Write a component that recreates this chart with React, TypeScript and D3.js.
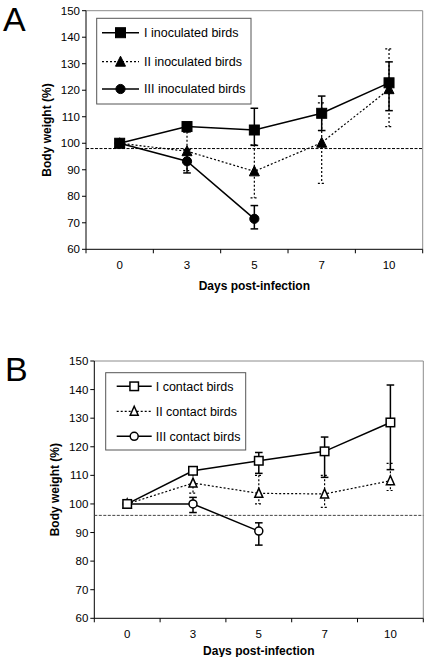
import React from "react";
import * as d3 from "d3";

const days = ["0", "3", "5", "7", "10"];
const yTicks = [60, 70, 80, 90, 100, 110, 120, 130, 140, 150];

// Panel A — inoculated birds
const inocLabels = ["I inoculated birds", "II inoculated birds", "III inoculated birds"];
const inocI = [100, 106.3, 105, 111.3, 122.8];
const inocIPlus = [0, 1.5, 8.2, 6.5, 7.9];
const inocIMinus = [0, 2, 5.8, 6.5, 10.5];
const inocII = [100, 97, 89.4, 100.2, 120.4];
const inocIIPlus = [0, 7.3, 10, 15, 15.2];
const inocIIMinus = [0, 7.3, 10, 15.3, 14.1];
const inocIII = [100, 93.2, 71.5, null, null];
const inocIIIPlus = [0, 4.4, 5, 0, 0];
const inocIIIMinus = [0, 4.4, 3.8, 0, 0];
const inocRef = 98;

// Panel B — contact birds
const contLabels = ["I contact birds", "II contact birds", "III contact birds"];
const contI = [100, 111.6, 115.1, 118.4, 128.5];
const contIPlus = [0, 1, 2.9, 5, 13.1];
const contIMinus = [0, 1, 4.4, 9.1, 16.5];
const contII = [100, 107.3, 103.7, 103.5, 108.1];
const contIIPlus = [0, 3, 6.3, 6.5, 6.1];
const contIIMinus = [0, 3.5, 3.7, 4.7, 3.4];
const contIII = [100, 100, 90.5, null, null];
const contIIIPlus = [0, 2.3, 2.9, 0, 0];
const contIIIMinus = [0, 3, 4.9, 0, 0];
const contRef = 96;

type Series = {
  values: (number | null)[];
  plus: number[];
  minus: number[];
  marker: "square" | "triangle" | "circle";
  filled: boolean;
  dotted: boolean;
  label: string;
};

type PanelProps = {
  letter: string;
  letterY: number;
  left: number;
  right: number;
  top: number;
  bottom: number;
  series: Series[];
  legendSeries: Series[];
  refValue: number;
  refColor: string;
  legend: { x0: number; x1: number; y0: number; y1: number; rows: number[]; lineX0: number; lineX1: number; textX: number };
  yTitleX: number;
  xLabelY: number;
  xTitleY: number;
};

const FONT = "Liberation Sans, Arial, sans-serif";

function Marker({ kind, x, y, filled }: { kind: string; x: number; y: number; filled: boolean }) {
  const fill = filled ? "#000" : "#fff";
  const sw = filled ? 1 : 1.5;
  if (kind === "square") {
    const s = filled ? 10 : 8.5;
    return <rect x={x - s / 2} y={y - s / 2} width={s} height={s} fill={fill} stroke="#000" strokeWidth={sw} />;
  }
  if (kind === "circle") {
    const r = filled ? 4.6 : 4;
    return <circle cx={x} cy={y} r={r} fill={fill} stroke="#000" strokeWidth={sw} />;
  }
  const h = filled ? 9 : 8;
  const w = filled ? 10 : 8;
  const p = `M${x},${y - h / 2 - 1} L${x + w / 2},${y + h / 2} L${x - w / 2},${y + h / 2} Z`;
  return <path d={p} fill={fill} stroke="#000" strokeWidth={sw} />;
}

function Panel(props: PanelProps) {
  const { left, right, top, bottom, series, legend } = props;
  const x = d3.scaleBand<string>().domain(days).range([left, right]).paddingInner(0).paddingOuter(0);
  const y = d3.scaleLinear().domain([60, 150]).range([bottom, top]);
  const cx = (d: string) => (x(d) as number) + x.bandwidth() / 2;
  const boundaries = [...days.map((d) => x(d) as number), right];
  const capW = 3.8;

  return (
    <g fontFamily={FONT}>
      <text x={props.letter === "A" ? 3 : 5} y={props.letterY} fontSize={34} fontFamily={FONT}>
        {props.letter}
      </text>
      <line x1={left} x2={right} y1={top} y2={top} stroke="#8c8c8c" strokeWidth={1} />
      <line x1={right} x2={right} y1={top} y2={bottom} stroke="#8c8c8c" strokeWidth={1} />
      <line x1={left} x2={left} y1={top} y2={bottom} stroke="#000" strokeWidth={1} />
      <line x1={left} x2={right} y1={bottom} y2={bottom} stroke="#000" strokeWidth={1} />
      {yTicks.map((t) => (
        <g key={t}>
          <line x1={left - 4} x2={left} y1={y(t)} y2={y(t)} stroke="#000" />
          <text x={left - 6} y={y(t)} dy="0.35em" textAnchor="end" fontSize={11.5}>
            {t}
          </text>
        </g>
      ))}
      {boundaries.map((b, i) => (
        <line key={i} x1={b} x2={b} y1={bottom} y2={bottom + 4} stroke="#000" />
      ))}
      {days.map((d) => (
        <text key={d} x={cx(d)} y={props.xLabelY} dy="0.35em" textAnchor="middle" fontSize={11.5}>
          {d}
        </text>
      ))}
      <text x={(left + right) / 2} y={props.xTitleY} dy="0.35em" textAnchor="middle" fontSize={12} fontWeight="bold">
        Days post-infection
      </text>
      <text
        transform={`translate(${props.yTitleX},${(top + bottom) / 2}) rotate(-90)`}
        textAnchor="middle"
        dy="0.35em"
        fontSize={12}
        fontWeight="bold"
      >
        Body weight (%)
      </text>
      <line
        x1={left}
        x2={right}
        y1={y(props.refValue)}
        y2={y(props.refValue)}
        stroke={props.refColor}
        strokeWidth={1}
        strokeDasharray="3,1.5"
      />
      {series.map((s, si) => {
        const pts = days
          .map((d, i) => ({ d, v: s.values[i], i }))
          .filter((p) => p.v !== null) as { d: string; v: number; i: number }[];
        const line = d3
          .line<{ d: string; v: number }>()
          .x((p) => cx(p.d))
          .y((p) => y(p.v));
        const dash = s.dotted ? "2,2" : undefined;
        const sw = s.dotted ? 1.2 : 1.5;
        return (
          <g key={si}>
            {pts.map((p) => {
              const hi = p.v + s.plus[p.i];
              const lo = p.v - s.minus[p.i];
              if (s.plus[p.i] === 0 && s.minus[p.i] === 0) return null;
              return (
                <g key={p.d} stroke="#000" strokeWidth={sw} strokeDasharray={dash}>
                  <line x1={cx(p.d)} x2={cx(p.d)} y1={y(hi)} y2={y(lo)} />
                  <line x1={cx(p.d) - capW} x2={cx(p.d) + capW} y1={y(hi)} y2={y(hi)} />
                  <line x1={cx(p.d) - capW} x2={cx(p.d) + capW} y1={y(lo)} y2={y(lo)} />
                </g>
              );
            })}
            <path d={line(pts) || ""} fill="none" stroke="#000" strokeWidth={sw} strokeDasharray={dash} />
            {pts.map((p) => (
              <Marker key={p.d} kind={s.marker} x={cx(p.d)} y={y(p.v)} filled={s.filled} />
            ))}
          </g>
        );
      })}
      <rect
        x={legend.x0}
        y={legend.y0}
        width={legend.x1 - legend.x0}
        height={legend.y1 - legend.y0}
        fill="#fff"
        stroke="#555"
        strokeWidth={1}
      />
      {props.legendSeries.map((s, si) => {
        const ry = legend.rows[si];
        const mx = (legend.lineX0 + legend.lineX1) / 2;
        return (
          <g key={si}>
            <line
              x1={legend.lineX0}
              x2={legend.lineX1}
              y1={ry}
              y2={ry}
              stroke="#000"
              strokeWidth={s.dotted ? 1.2 : 1.5}
              strokeDasharray={s.dotted ? "2,2" : undefined}
            />
            <Marker kind={s.marker} x={mx} y={ry} filled={s.filled} />
            <text x={legend.textX} y={ry} dy="0.35em" fontSize={12.5}>
              {s.label}
            </text>
          </g>
        );
      })}
    </g>
  );
}

export default function App() {
  const seriesA: Series[] = [
    { values: inocII, plus: inocIIPlus, minus: inocIIMinus, marker: "triangle", filled: true, dotted: true, label: inocLabels[1] },
    { values: inocIII, plus: inocIIIPlus, minus: inocIIIMinus, marker: "circle", filled: true, dotted: false, label: inocLabels[2] },
    { values: inocI, plus: inocIPlus, minus: inocIMinus, marker: "square", filled: true, dotted: false, label: inocLabels[0] },
  ];
  const legendOrderA = [seriesA[2], seriesA[0], seriesA[1]];
  const seriesB: Series[] = [
    { values: contII, plus: contIIPlus, minus: contIIMinus, marker: "triangle", filled: false, dotted: true, label: contLabels[1] },
    { values: contIII, plus: contIIIPlus, minus: contIIIMinus, marker: "circle", filled: false, dotted: false, label: contLabels[2] },
    { values: contI, plus: contIPlus, minus: contIMinus, marker: "square", filled: false, dotted: false, label: contLabels[0] },
  ];
  const legendOrderB = [seriesB[2], seriesB[0], seriesB[1]];

  return (
    <svg
      width={425}
      height={657}
      style={{ position: "absolute", left: 0, top: 0, background: "#fff" }}
    >
      <rect x={0} y={0} width={425} height={657} fill="#fff" />
      <Panel
        letter="A"
        letterY={31}
        left={86}
        right={422.7}
        top={10.7}
        bottom={249.3}
        series={seriesA}
        legendSeries={legendOrderA}
        refValue={inocRef}
        refColor="#000"
        legend={{ x0: 96.7, x1: 251, y0: 18.3, y1: 104, rows: [32.7, 61.7, 89], lineX0: 102, lineX1: 139, textX: 144 }}
        yTitleX={47}
        xLabelY={265}
        xTitleY={286}
      />
      <Panel
        letter="B"
        letterY={381}
        left={94.3}
        right={423.3}
        top={361}
        bottom={618.3}
        series={seriesB}
        legendSeries={legendOrderB}
        refValue={contRef}
        refColor="#444"
        legend={{ x0: 105.7, x1: 245.7, y0: 372.7, y1: 450, rows: [386.3, 411.3, 436.3], lineX0: 116.7, lineX1: 151.7, textX: 155.7 }}
        yTitleX={55}
        xLabelY={634.3}
        xTitleY={650.7}
      />
    </svg>
  );
}
